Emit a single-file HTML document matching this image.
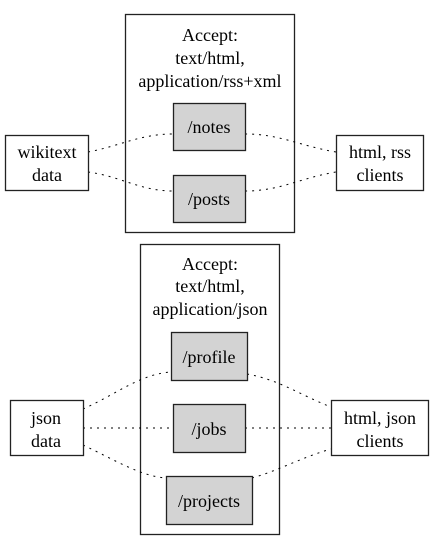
<!DOCTYPE html>
<html><head><style>body{margin:0;background:#fff}svg text{font-family:"Liberation Serif",serif;font-size:18px;fill:#000}</style></head>
<body>
<svg width="433" height="552" viewBox="0 0 433 552" xmlns="http://www.w3.org/2000/svg">
<g fill="none" stroke="#222" stroke-width="1.3">
<rect x="125.5" y="14.5" width="169" height="218" fill="#fff"/>
<rect x="140.5" y="244.5" width="139" height="290" fill="#fff"/>
</g>
<g fill="none" stroke="#000" stroke-width="1" stroke-dasharray="2,5">
<path d="M88,152 C120,146 140,134 173,134"/>
<path d="M88,172 C120,176 140,191 173,191"/>
<path d="M245,134 C280,134 300,146 336,152"/>
<path d="M245,191 C280,191 300,178 336,172"/>
<path d="M83,409 C115,395 140,374 171,372"/>
<path d="M83,428 L173,428"/>
<path d="M83,445 C115,460 140,476 166,478"/>
<path d="M247,374 C280,380 300,395 331,407"/>
<path d="M245,428 L331,428"/>
<path d="M252,478 C280,470 300,458 331,449"/>
</g>
<g stroke="#222" stroke-width="1.3">
<rect x="173.5" y="103.5" width="72" height="47" fill="#d3d3d3"/>
<rect x="173.5" y="175.5" width="72" height="47" fill="#d3d3d3"/>
<rect x="171.5" y="332.5" width="76" height="48" fill="#d3d3d3"/>
<rect x="173.5" y="404.5" width="72" height="48" fill="#d3d3d3"/>
<rect x="166.5" y="476.5" width="86" height="48" fill="#d3d3d3"/>
<rect x="5.5" y="135.5" width="83" height="55" fill="#fff"/>
<rect x="336.5" y="135.5" width="87" height="55" fill="#fff"/>
<rect x="10.5" y="400.5" width="73" height="55" fill="#fff"/>
<rect x="331.5" y="400.5" width="97" height="55" fill="#fff"/>
</g>
<g text-anchor="middle">
<text x="210" y="41">Accept:</text>
<text x="210" y="64">text/html,</text>
<text x="210" y="87">application/rss+xml</text>
<text x="209" y="133">/notes</text>
<text x="209" y="205">/posts</text>
<text x="47" y="158">wikitext</text>
<text x="47" y="181">data</text>
<text x="380" y="158">html, rss</text>
<text x="380" y="181">clients</text>
<text x="210" y="270">Accept:</text>
<text x="210" y="292">text/html,</text>
<text x="210" y="315">application/json</text>
<text x="209" y="363">/profile</text>
<text x="209" y="435">/jobs</text>
<text x="209" y="507">/projects</text>
<text x="46" y="424">json</text>
<text x="46" y="447">data</text>
<text x="380" y="424">html, json</text>
<text x="380" y="447">clients</text>
</g>
</svg>
</body></html>
